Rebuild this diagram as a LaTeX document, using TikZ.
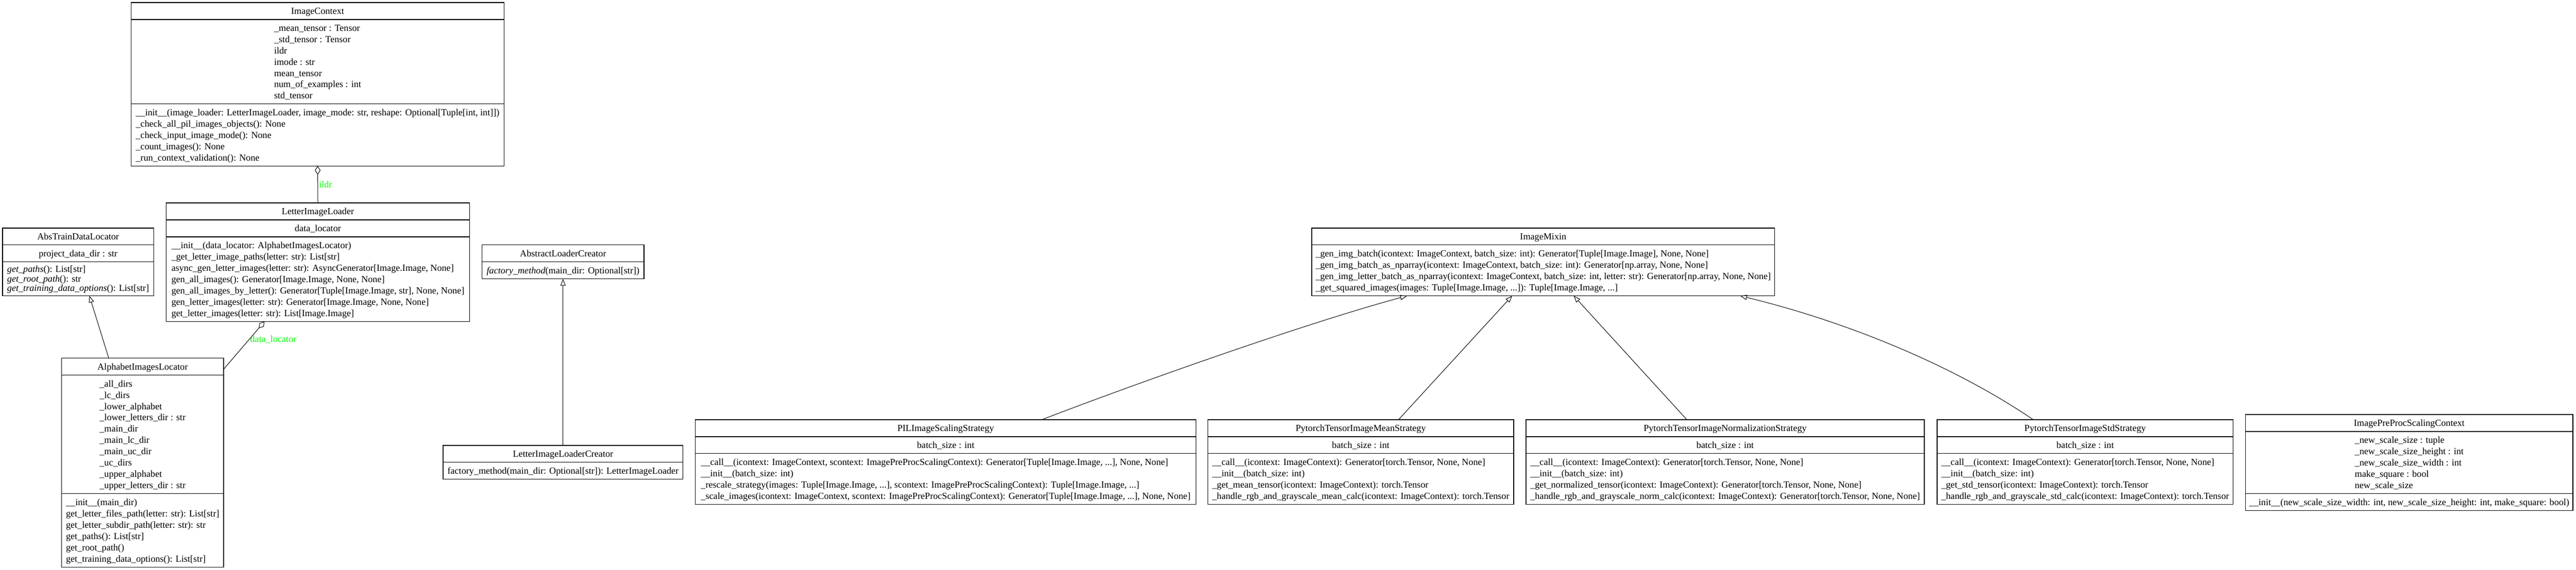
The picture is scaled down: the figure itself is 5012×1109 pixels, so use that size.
\documentclass[tikz,border=0pt]{standalone}
\usepackage{fontspec}
\setmainfont{Liberation Serif}
\usetikzlibrary{arrows.meta,calc}
\definecolor{lblgreen}{RGB}{0,255,0}
\def\mypitch{22}
\newcommand\fs{\fontsize{18.2}{\mypitch}\selectfont}
\tikzset{
  umlframe/.style={draw, line width=1.2pt, inner sep=0pt, outer sep=0pt},
  umlsep/.style={line width=1.2pt},
  txt/.style={inner sep=0pt, font=\fs, yshift=-2pt, anchor=center},
  lbl/.style={inner sep=2pt, font=\fs, text=lblgreen},
  inherit/.style={draw, line width=1pt, -{Triangle[open, length=13pt, width=10pt]}},
  aggr/.style={draw, line width=1pt, -{Diamond[open, length=17pt, width=11pt]}}
}
% #1 name, #2 x left, #3 x right, #4 y top, #5 title, #6 h2, #7 sec2, #8 h3, #9 sec3
\newcommand\umlclass[9]{%
  \node[umlframe, minimum width={#3-#2}, minimum height={33+#6+#8}, anchor=north west] (#1) at (#2,#4) {};
  \node[txt] at ({(#2+#3)/2},{#4+16.5}) {\begin{tabular}{@{}l@{}}#5\end{tabular}};
  \draw[umlsep] (#2,{#4+33}) -- (#3,{#4+33});
  \node[txt] at ({(#2+#3)/2},{#4+33+#6/2}) {\begin{tabular}{@{}l@{}}#7\end{tabular}};
  \ifdim #8pt>0pt
    \draw[umlsep] (#2,{#4+33+#6}) -- (#3,{#4+33+#6});
    \node[txt] at ({(#2+#3)/2},{#4+33+#6+#8/2}) {\begin{tabular}{@{}l@{}}#9\end{tabular}};
  \fi
}
\begin{document}
\begin{tikzpicture}[x=1pt,y=-1pt]
\useasboundingbox (0,0) rectangle (5012,1109);

\umlclass{ic}{255}{981}{5}{ImageContext}{164}{%
\_mean\_tensor : Tensor\\
\_std\_tensor : Tensor\\
ildr\\
imode : str\\
mean\_tensor\\
num\_of\_examples : int\\
std\_tensor}{121}{%
\_\_init\_\_(image\_loader: LetterImageLoader, image\_mode: str, reshape: Optional[Tuple[int, int]])\\
\_check\_all\_pil\_images\_objects(): None\\
\_check\_input\_image\_mode(): None\\
\_count\_images(): None\\
\_run\_context\_validation(): None}

\begin{scope}
\def\mypitch{18.5}
\umlclass{atdl}{5}{299}{444}{AbsTrainDataLocator}{33}{project\_data\_dir : str}{66}{%
\textit{get\_paths}(): List[str]\\
\textit{get\_root\_path}(): str\\
\textit{get\_training\_data\_options}(): List[str]}
\end{scope}

\umlclass{lil}{323}{914}{395}{LetterImageLoader}{33}{data\_locator}{165}{%
\_\_init\_\_(data\_locator: AlphabetImagesLocator)\\
\_get\_letter\_image\_paths(letter: str): List[str]\\
async\_gen\_letter\_images(letter: str): AsyncGenerator[Image.Image, None]\\
gen\_all\_images(): Generator[Image.Image, None, None]\\
gen\_all\_images\_by\_letter(): Generator[Tuple[Image.Image, str], None, None]\\
gen\_letter\_images(letter: str): Generator[Image.Image, None, None]\\
get\_letter\_images(letter: str): List[Image.Image]}

\umlclass{alc}{938}{1253}{477}{AbstractLoaderCreator}{33}{\textit{factory\_method}(main\_dir: Optional[str])}{0}{}

\umlclass{im}{2552}{3453}{444}{ImageMixin}{99}{%
\_gen\_img\_batch(icontext: ImageContext, batch\_size: int): Generator[Tuple[Image.Image], None, None]\\
\_gen\_img\_batch\_as\_nparray(icontext: ImageContext, batch\_size: int): Generator[np.array, None, None]\\
\_gen\_img\_letter\_batch\_as\_nparray(icontext: ImageContext, batch\_size: int, letter: str): Generator[np.array, None, None]\\
\_get\_squared\_images(images: Tuple[Image.Image, ...]): Tuple[Image.Image, ...]}{0}{}

\umlclass{ail}{120}{435}{697}{AlphabetImagesLocator}{231}{%
\_all\_dirs\\
\_lc\_dirs\\
\_lower\_alphabet\\
\_lower\_letters\_dir : str\\
\_main\_dir\\
\_main\_lc\_dir\\
\_main\_uc\_dir\\
\_uc\_dirs\\
\_upper\_alphabet\\
\_upper\_letters\_dir : str}{143}{%
\_\_init\_\_(main\_dir)\\
get\_letter\_files\_path(letter: str): List[str]\\
get\_letter\_subdir\_path(letter: str): str\\
get\_paths(): List[str]\\
get\_root\_path()\\
get\_training\_data\_options(): List[str]}

\umlclass{lilc}{862}{1329}{867}{LetterImageLoaderCreator}{33}{factory\_method(main\_dir: Optional[str]): LetterImageLoader}{0}{}

\umlclass{pil}{1353}{2327}{817}{PILImageScalingStrategy}{33}{batch\_size : int}{99}{%
\_\_call\_\_(icontext: ImageContext, scontext: ImagePreProcScalingContext): Generator[Tuple[Image.Image, ...], None, None]\\
\_\_init\_\_(batch\_size: int)\\
\_rescale\_strategy(images: Tuple[Image.Image, ...], scontext: ImagePreProcScalingContext): Tuple[Image.Image, ...]\\
\_scale\_images(icontext: ImageContext, scontext: ImagePreProcScalingContext): Generator[Tuple[Image.Image, ...], None, None]}

\umlclass{mean}{2350}{2945}{817}{PytorchTensorImageMeanStrategy}{33}{batch\_size : int}{99}{%
\_\_call\_\_(icontext: ImageContext): Generator[torch.Tensor, None, None]\\
\_\_init\_\_(batch\_size: int)\\
\_get\_mean\_tensor(icontext: ImageContext): torch.Tensor\\
\_handle\_rgb\_and\_grayscale\_mean\_calc(icontext: ImageContext): torch.Tensor}

\umlclass{norm}{2969}{3744}{817}{PytorchTensorImageNormalizationStrategy}{33}{batch\_size : int}{99}{%
\_\_call\_\_(icontext: ImageContext): Generator[torch.Tensor, None, None]\\
\_\_init\_\_(batch\_size: int)\\
\_get\_normalized\_tensor(icontext: ImageContext): Generator[torch.Tensor, None, None]\\
\_handle\_rgb\_and\_grayscale\_norm\_calc(icontext: ImageContext): Generator[torch.Tensor, None, None]}

\umlclass{std}{3769}{4345}{817}{PytorchTensorImageStdStrategy}{33}{batch\_size : int}{99}{%
\_\_call\_\_(icontext: ImageContext): Generator[torch.Tensor, None, None]\\
\_\_init\_\_(batch\_size: int)\\
\_get\_std\_tensor(icontext: ImageContext): torch.Tensor\\
\_handle\_rgb\_and\_grayscale\_std\_calc(icontext: ImageContext): torch.Tensor}

\umlclass{ippsc}{4369}{5006}{807}{ImagePreProcScalingContext}{121}{%
\_new\_scale\_size : tuple\\
\_new\_scale\_size\_height : int\\
\_new\_scale\_size\_width : int\\
make\_square : bool\\
new\_scale\_size}{33}{%
\_\_init\_\_(new\_scale\_size\_width: int, new\_scale\_size\_height: int, make\_square: bool)}

% connectors
\draw[aggr] (lil.north) -- (ic.south) node[lbl, pos=0.5, anchor=west] {ildr};
\draw[aggr] ([yshift=-22pt]ail.north east) -- ([xshift=-104pt]lil.south) node[lbl, pos=0.62, anchor=west] {data\_locator};
\draw[inherit] ([xshift=-66pt]ail.north) -- ([xshift=22pt]atdl.south);
\draw[inherit] (lilc.north) -- (alc.south);
\draw[inherit] ([xshift=187pt]pil.north) .. controls +(187,-72) and +(-193,52) .. ([xshift=-265pt]im.south);
\draw[inherit] ([xshift=73.5pt]mean.north) -- ([xshift=-60.5pt]im.south);
\draw[inherit] ([xshift=-74.5pt]norm.north) -- ([xshift=59.5pt]im.south);
\draw[inherit] ([xshift=-101pt]std.north) .. controls +(-165,-112) and +(194,47) .. ([xshift=383.5pt]im.south);
\end{tikzpicture}
\end{document}
